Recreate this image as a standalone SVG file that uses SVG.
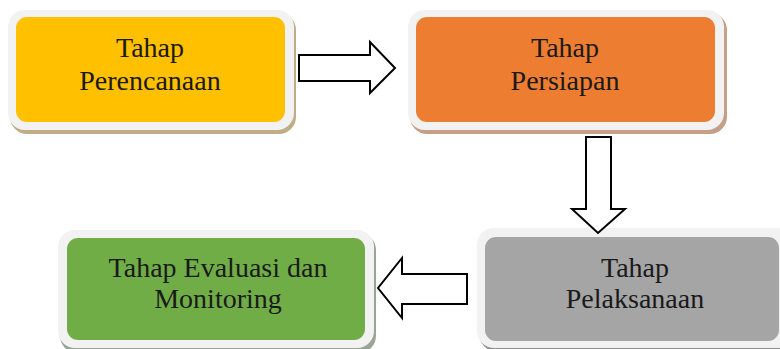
<svg xmlns="http://www.w3.org/2000/svg" width="780" height="349" viewBox="0 0 780 349">
<style>
.frame{fill:#f2f2f2}
.lbl{font-family:"Liberation Serif","Times New Roman",serif;font-size:28px;fill:#1a1a1a;text-anchor:middle}
.arrow{fill:#ffffff;stroke:#000000;stroke-width:2;stroke-linejoin:miter}
</style>
<rect width="780" height="349" fill="#ffffff"/>
<g id="node-perencanaan">
<rect x="10" y="13" width="286" height="121" rx="17" fill="#bfae85"/>
<rect class="frame" x="8" y="10" width="286" height="120" rx="17"/>
<rect x="16" y="17" width="269" height="105" rx="11" fill="#ffc000"/>
<text class="lbl" x="150" y="57">Tahap</text>
<text class="lbl" x="150" y="90">Perencanaan</text>
</g>
<g id="node-persiapan">
<rect x="410" y="13" width="317" height="121" rx="17" fill="#c4a088"/>
<rect class="frame" x="408" y="10" width="316" height="120" rx="17"/>
<rect x="416" y="17" width="299" height="105" rx="11" fill="#ed7d31"/>
<text class="lbl" x="565" y="57">Tahap</text>
<text class="lbl" x="565" y="90">Persiapan</text>
</g>
<g id="node-pelaksanaan">
<rect x="479" y="231" width="320" height="120" rx="17" fill="#8c8c8c"/>
<rect class="frame" x="477" y="228" width="320" height="120" rx="17"/>
<rect x="485" y="237" width="294" height="104" rx="11" fill="#a5a5a5"/>
<text class="lbl" x="635" y="277">Tahap</text>
<text class="lbl" x="635" y="308">Pelaksanaan</text>
</g>
<g id="node-evaluasi">
<rect x="60" y="233" width="316" height="120" rx="17" fill="#9aa596"/>
<rect class="frame" x="58" y="230" width="316" height="118" rx="17"/>
<rect x="67" y="238" width="298" height="102" rx="11" fill="#70ad47"/>
<text class="lbl" x="218" y="277">Tahap Evaluasi dan</text>
<text class="lbl" x="218" y="308">Monitoring</text>
</g>
<g id="connectors">
<polygon class="arrow" points="299,55 370,55 370,42 395,68 370,93 370,81 299,81"/>
<polygon class="arrow" points="586,137 611,137 611,209 625,209 598,233 572,209 586,209"/>
<polygon class="arrow" points="467,274 402,274 402,258 378,288 402,318 402,304 467,304"/>
</g>
</svg>
